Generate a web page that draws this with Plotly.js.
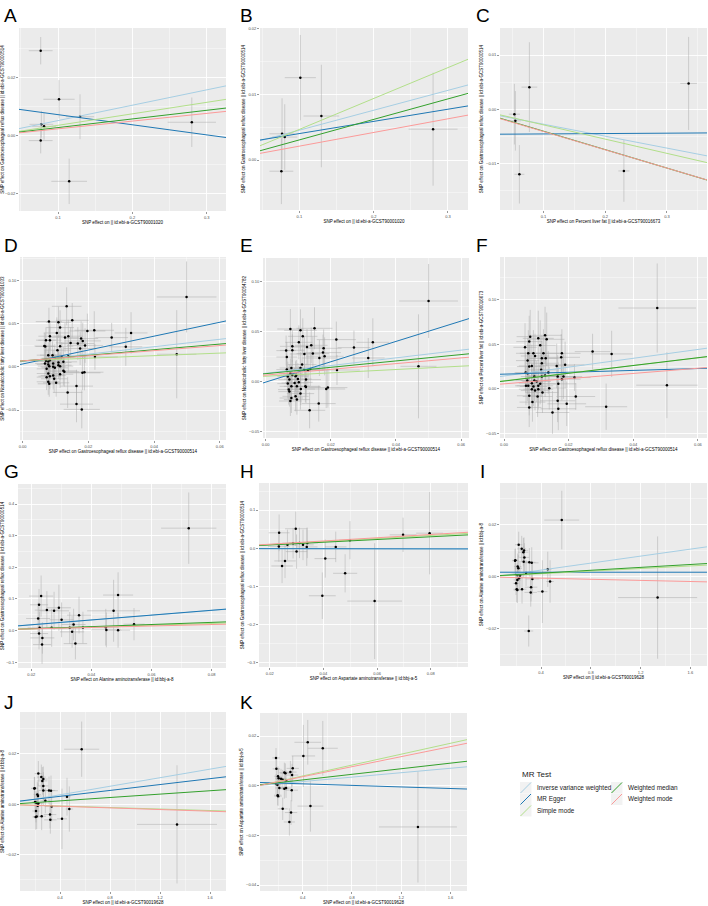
<!DOCTYPE html>
<html><head><meta charset="utf-8">
<script src="https://cdn.plot.ly/plotly-3.0.1.min.js"></script>
<style>html,body{margin:0;padding:0;background:#fff}#c{width:708px;height:906px}</style>
</head><body><div id="c"></div>
<script>
// ---------- DATA ----------
const methods = ["Inverse variance weighted","MR Egger","Simple mode","Weighted median","Weighted mode"];
const methodColors = ["#A6CEE3","#1F78B4","#B2DF8A","#33A02C","#FB9A99"];

// Panel A
const A_bx = [0.0767,0.1013,0.1296,0.0776,0.0812,0.0767,0.1150,0.2800];
const A_by = [0.0291,0.0124,0.0064,0.0038,0.0031,-0.0018,-0.0158,0.0045];
const A_sx = [0.016,0.021,0.019,0.016,0.016,0.016,0.024,0.0325];
const A_sy = [0.0047,0.0066,0.0077,0.0046,0.0046,0.0044,0.0078,0.0085];
const A_int = [-0.0002,0.0106,-0.0005,-0.0003,-0.0004];
const A_slope = [0.0528,-0.0348,0.0395,0.0297,0.0265];

// Panel B
const B_bx = [0.1013,0.1296,0.0767,0.0803,0.0758,0.2800];
const B_by = [0.01254,0.0067,0.0040,0.0035,-0.0017,0.0047];
const B_sx = [0.021,0.024,0.017,0.017,0.016,0.033];
const B_sy = [0.0065,0.0078,0.0054,0.0050,0.0050,0.0086];
const B_int = [0.00152,0.00218,-0.00003,-0.00005,0.00004];
const B_slope = [0.0303,0.01853,0.0470,0.0312,0.0208];

// Panel C
const C_bx = [0.0530,0.0546,0.0773,0.0611,0.2303,0.3351];
const C_by = [-0.00093,-0.00216,0.00407,-0.01204,-0.01142,0.00475];
const C_sx = [0.009,0.009,0.0127,0.008,0.009,0.0135];
const C_sy = [0.0056,0.0055,0.0083,0.0054,0.0057,0.0086];
const C_int = [-0.00057,-0.00465,-0.00027,-0.00066,-0.00075];
const C_slope = [-0.0221,0.0007,-0.02634,-0.0341,-0.0338];

// Panel D
const D_bx = [0.0134,0.0151,0.0080,0.0109,0.0114,0.0197,0.0218,0.0104,0.0139,0.0129,0.0083,0.0071,0.0083,0.0178,0.0183,0.0146,0.0168,0.0190,0.0066,0.0069,0.0114,0.0175,0.0106,0.0078,0.0091,0.0139,0.0119,0.0098,0.0083,0.0071,0.0078,0.0124,0.0109,0.0093,0.0068,0.0078,0.0109,0.0081,0.0114,0.0093,0.0098,0.0073,0.0124,0.0127,0.0182,0.0188,0.0078,0.0114,0.0093,0.0083,0.0073,0.0096,0.0078,0.0081,0.0102,0.0164,0.0137,0.0164,0.0180,0.0499,0.0469,0.0330,0.0314,0.0271,0.0220];
const D_by = [0.0700,0.0538,0.0523,0.0515,0.0454,0.0415,0.0423,0.0392,0.0354,0.0338,0.0354,0.0308,0.0308,0.0327,0.0300,0.0277,0.0269,0.0246,0.0242,0.0235,0.0238,0.0212,0.0192,0.0135,0.0135,0.0123,0.0115,0.0100,0.0077,0.0069,0.0062,0.0058,0.0050,0.0038,0.0038,0.0027,0.0019,0.0008,0.0008,0.0000,-0.0012,-0.0023,-0.0046,-0.0058,-0.0069,-0.0062,-0.0077,-0.0085,-0.0100,-0.0108,-0.0119,-0.0138,-0.0173,-0.0196,-0.0185,-0.0223,-0.0296,-0.0431,-0.0492,0.0808,0.0146,0.0392,0.0231,0.0338,0.0115];
const D_sx = [0.0045,0.0050,0.0040,0.0038,0.0042,0.0055,0.0060,0.0040,0.0045,0.0042,0.0035,0.0030,0.0035,0.0052,0.0055,0.0045,0.0050,0.0055,0.0030,0.0030,0.0040,0.0050,0.0040,0.0035,0.0038,0.0045,0.0042,0.0040,0.0035,0.0030,0.0035,0.0042,0.0040,0.0038,0.0030,0.0035,0.0040,0.0035,0.0040,0.0038,0.0040,0.0030,0.0042,0.0045,0.0055,0.0058,0.0035,0.0040,0.0038,0.0035,0.0030,0.0040,0.0035,0.0035,0.0040,0.0050,0.0045,0.0050,0.0055,0.0091,0.0060,0.0050,0.0050,0.0050,0.0070];
const D_sy = [0.022,0.020,0.016,0.018,0.020,0.020,0.022,0.018,0.019,0.017,0.016,0.015,0.016,0.020,0.021,0.018,0.019,0.020,0.015,0.015,0.017,0.019,0.017,0.015,0.016,0.018,0.017,0.016,0.015,0.015,0.015,0.017,0.016,0.016,0.015,0.015,0.016,0.015,0.016,0.016,0.016,0.015,0.017,0.017,0.020,0.021,0.015,0.016,0.016,0.015,0.015,0.016,0.015,0.015,0.016,0.019,0.018,0.021,0.022,0.041,0.051,0.024,0.022,0.017,0.015];
const D_int = [0.0061,0.0033,0.0070,0.0068,0.0069];
const D_slope = [0.429,0.804,0.148,0.325,0.295];

// Panel E
const E_bx = [0.0076,0.0107,0.0150,0.0114,0.0102,0.0082,0.0082,0.0065,0.0063,0.0127,0.0140,0.0178,0.0176,0.0181,0.0145,0.0165,0.0119,0.0112,0.0107,0.0079,0.0119,0.0130,0.0137,0.0065,0.0082,0.0076,0.0092,0.0099,0.0068,0.0073,0.0094,0.0102,0.0068,0.0089,0.0079,0.0124,0.0122,0.0071,0.0096,0.0108,0.0124,0.0073,0.0092,0.0107,0.0079,0.0096,0.0076,0.0163,0.0135,0.0186,0.0191,0.0500,0.0469,0.0329,0.0315,0.0271,0.0217,0.0219];
const E_by = [0.0523,0.0510,0.0530,0.0450,0.0390,0.0350,0.0310,0.0243,0.0307,0.0343,0.0360,0.0330,0.0287,0.0250,0.0277,0.0233,0.0273,0.0167,0.0133,0.0133,0.0117,0.0110,0.0123,0.0117,0.0063,0.0077,0.0050,0.0023,0.0047,0.0017,0.0063,-0.0010,-0.0023,-0.0017,-0.0050,0.0017,-0.0050,-0.0083,-0.0050,-0.0077,-0.0057,-0.0103,-0.0150,-0.0123,-0.0167,-0.0183,-0.0197,-0.0223,-0.0290,-0.0077,-0.0063,0.0803,0.0150,0.0390,0.0233,0.0337,0.0417,0.0113];
const E_sx = [0.0040,0.0050,0.0055,0.0045,0.0042,0.0038,0.0038,0.0032,0.0030,0.0048,0.0050,0.0055,0.0055,0.0058,0.0050,0.0052,0.0045,0.0044,0.0042,0.0036,0.0045,0.0048,0.0050,0.0032,0.0036,0.0035,0.0040,0.0042,0.0032,0.0034,0.0040,0.0042,0.0032,0.0040,0.0036,0.0046,0.0045,0.0033,0.0040,0.0043,0.0046,0.0034,0.0040,0.0042,0.0036,0.0040,0.0035,0.0052,0.0048,0.0058,0.0060,0.0090,0.0055,0.0050,0.0050,0.0050,0.0060,0.0070];
const E_sy = [0.020,0.021,0.021,0.018,0.017,0.016,0.016,0.015,0.015,0.018,0.018,0.019,0.018,0.019,0.017,0.018,0.017,0.016,0.016,0.015,0.016,0.016,0.017,0.015,0.015,0.015,0.015,0.016,0.015,0.015,0.015,0.016,0.015,0.015,0.015,0.016,0.016,0.015,0.015,0.016,0.016,0.015,0.015,0.016,0.015,0.015,0.015,0.018,0.018,0.019,0.020,0.037,0.052,0.024,0.020,0.017,0.018,0.015];
const E_int = [0.0080,-0.00085,0.0051,0.0076,0.0062];
const E_slope = [0.3864,1.0184,0.1672,0.3187,0.2870];

// Panel F
const F_bx = [0.0081,0.0106,0.0127,0.0132,0.0065,0.0078,0.0112,0.0091,0.0122,0.0096,0.0075,0.0179,0.0177,0.0117,0.0073,0.0129,0.0086,0.0117,0.0115,0.0078,0.0163,0.0189,0.0067,0.0073,0.0137,0.0094,0.0117,0.0127,0.0166,0.0184,0.0179,0.0072,0.0094,0.0101,0.0086,0.0068,0.0075,0.0091,0.0106,0.0112,0.0168,0.0140,0.0106,0.0096,0.0086,0.0078,0.0104,0.0119,0.0088,0.0166,0.0078,0.0168,0.0150,0.0194,0.0474,0.0504,0.0333,0.0316,0.0274,0.0222,0.0218];
const F_by = [0.0586,0.0567,0.0601,0.0556,0.0466,0.0530,0.0489,0.0399,0.0399,0.0369,0.0399,0.0399,0.0354,0.0343,0.0317,0.0343,0.0257,0.0287,0.0213,0.0250,0.0257,0.0269,0.0183,0.0175,0.0183,0.0138,0.0138,0.0149,0.0138,0.0138,0.0108,0.0093,0.0093,0.0082,0.0063,0.0034,0.0034,0.0026,0.0034,0.0056,0.0056,0.0007,-0.0004,-0.0019,-0.0004,-0.0078,-0.0086,-0.0041,-0.0149,-0.0134,-0.0209,-0.0224,-0.0265,-0.0168,0.0907,0.0041,0.0392,-0.0201,0.0418,-0.0086,0.0127];
const F_sx = [0.0042,0.0048,0.0052,0.0055,0.0036,0.0040,0.0048,0.0042,0.0050,0.0044,0.0038,0.0058,0.0058,0.0048,0.0036,0.0050,0.0040,0.0048,0.0046,0.0038,0.0055,0.0060,0.0034,0.0036,0.0052,0.0042,0.0048,0.0050,0.0055,0.0058,0.0058,0.0036,0.0042,0.0044,0.0040,0.0034,0.0036,0.0042,0.0046,0.0048,0.0055,0.0052,0.0046,0.0044,0.0040,0.0038,0.0046,0.0050,0.0040,0.0055,0.0038,0.0055,0.0052,0.0060,0.0120,0.0095,0.0065,0.0065,0.0055,0.0060,0.0050];
const F_sy = [0.030,0.031,0.032,0.030,0.027,0.029,0.028,0.026,0.027,0.025,0.026,0.027,0.026,0.026,0.025,0.026,0.024,0.025,0.024,0.024,0.025,0.026,0.023,0.023,0.024,0.023,0.023,0.024,0.024,0.025,0.024,0.023,0.023,0.023,0.022,0.022,0.022,0.022,0.023,0.023,0.024,0.024,0.023,0.022,0.022,0.022,0.023,0.023,0.022,0.024,0.022,0.024,0.024,0.025,0.050,0.037,0.026,0.026,0.020,0.015,0.015];
const F_int = [0.0144,0.0165,0.0090,0.0087,0.0056];
const F_slope = [0.4968,0.1046,0.4300,0.4370,0.2920];

// Panel G
const G_bx = [0.0724,0.0489,0.0474,0.0542,0.0448,0.0450,0.0489,0.0233,0.0226,0.0252,0.0276,0.0292,0.0223,0.0301,0.0359,0.0341,0.0372,0.0228,0.0268,0.0328,0.0336,0.0226,0.0237,0.0236,0.0347];
const G_by = [0.3238,0.1122,0.0624,0.0201,0.0106,0.0020,0.0010,0.1090,0.0815,0.0646,0.0624,0.0720,0.0381,0.0339,0.0487,0.0190,0.0095,0.0085,0.0085,0.0085,-0.0042,-0.0095,-0.0233,-0.0444,-0.0413];
const G_sx = [0.0092,0.0050,0.0088,0.0035,0.0040,0.0050,0.0040,0.0040,0.0030,0.0040,0.0050,0.0040,0.0040,0.0040,0.0040,0.0040,0.0040,0.0040,0.0050,0.0040,0.0040,0.0030,0.0040,0.0030,0.0039];
const G_sy = [0.113,0.072,0.098,0.051,0.058,0.055,0.055,0.065,0.050,0.060,0.060,0.073,0.050,0.055,0.058,0.050,0.050,0.050,0.060,0.050,0.050,0.050,0.050,0.061,0.050];
const G_int = [0.0028,0.0029,0.0000,-0.0011,0.0006];
const G_slope = [0.7600,0.7645,0.2800,0.3367,0.2298];

// Panel H
const H_bx = [0.0234,0.0235,0.0246,0.0257,0.0266,0.0287,0.0297,0.0300,0.0311,0.0324,0.0338,0.0340,0.0396,0.0407,0.0446,0.0481,0.0499,0.0591,0.0697,0.0796];
const H_by = [0.0044,0.0404,-0.0465,-0.0333,0.0088,0.0132,0.0509,-0.0088,0.0140,0.0088,0.0035,0.0140,-0.1246,-0.0272,0.0035,-0.0658,0.0211,-0.1386,0.0351,0.0395];
const H_sx = [0.004,0.0039,0.004,0.004,0.004,0.004,0.004,0.004,0.004,0.004,0.004,0.004,0.005,0.004,0.004,0.0045,0.004,0.0102,0.005,0.005];
const H_sy = [0.040,0.048,0.045,0.045,0.040,0.040,0.045,0.045,0.040,0.040,0.050,0.040,0.061,0.050,0.040,0.050,0.050,0.152,0.045,0.108];
const H_int = [-0.0010,-0.0010,0.0015,0.0013,0.0020];
const H_slope = [-0.0100,-0.0080,0.4000,0.3584,0.4247];

// Panel I
const I_bx = [0.5664,1.3369,0.3007,0.4537,0.4725,0.4107,0.2201,0.2443,0.2577,0.2631,0.2658,0.1933,0.1906,0.2121,0.2174,0.2604,0.3060,0.3248,0.2792,0.1987,0.2094,0.2309,0.2228,0.2094,0.1987,0.2040,0.2094,0.2470,0.3168,0.3195,0.3302];
const I_by = [0.0218,-0.0081,-0.0210,0.0028,-0.0019,-0.0058,0.0123,0.0107,0.0094,0.0101,0.0074,0.0063,0.0061,0.0039,0.0032,0.0057,0.0055,0.0053,0.0014,0.0009,0.0006,0.0004,-0.0006,-0.0013,-0.0026,-0.0049,-0.0052,-0.0049,-0.0061,-0.0041,-0.0009];
const I_sx = [0.140,0.318,0.036,0.030,0.030,0.040,0.030,0.035,0.040,0.035,0.040,0.025,0.025,0.030,0.030,0.040,0.050,0.055,0.040,0.025,0.030,0.035,0.030,0.030,0.025,0.025,0.030,0.035,0.050,0.050,0.055];
const I_sy = [0.0113,0.0236,0.0060,0.0068,0.0082,0.0121,0.0050,0.0050,0.0055,0.0050,0.0055,0.0045,0.0045,0.0050,0.0050,0.0060,0.0055,0.0060,0.0050,0.0045,0.0045,0.0050,0.0045,0.0045,0.0045,0.0050,0.0050,0.0055,0.0055,0.0055,0.0060];
const I_int = [-0.0002,0.00168,0.0001,0.0002,-0.00018];
const I_slope = [0.00674,0.0000,0.0025,0.00279,-0.00108];

// Panel J
const J_bx = [0.5733,1.3360,0.4160,0.4560,0.4747,0.2267,0.2507,0.2587,0.2667,0.2667,0.1973,0.1947,0.2187,0.2240,0.2667,0.3120,0.3280,0.2827,0.2000,0.2107,0.2267,0.2213,0.2080,0.2053,0.2133,0.2533,0.3200,0.3227,0.3333];
const J_by = [0.0219,-0.0080,-0.0058,0.0030,-0.0019,0.0122,0.0108,0.0093,0.0100,0.0073,0.0064,0.0063,0.0039,0.0033,0.0055,0.0055,0.0054,0.0014,0.0009,0.0006,0.0003,-0.0006,-0.0027,-0.0051,-0.0049,-0.0048,-0.0041,-0.0062,-0.0009];
const J_sx = [0.140,0.320,0.040,0.030,0.030,0.030,0.035,0.040,0.035,0.040,0.025,0.025,0.030,0.030,0.040,0.050,0.055,0.040,0.025,0.030,0.035,0.030,0.030,0.025,0.030,0.035,0.050,0.050,0.055];
const J_sy = [0.0110,0.0235,0.0120,0.0075,0.0090,0.0050,0.0050,0.0055,0.0050,0.0055,0.0045,0.0045,0.0050,0.0050,0.0060,0.0055,0.0060,0.0050,0.0045,0.0045,0.0050,0.0045,0.0045,0.0050,0.0050,0.0055,0.0055,0.0055,0.0060];
const J_int = [0.00035,0.00082,-0.0001,0.0000,-0.00013];
const J_slope = [0.00851,0.00585,-0.0015,0.00336,-0.00164];

// Panel K
const K_bx = [1.3356,0.4407,0.5627,0.4054,0.4624,0.1830,0.1858,0.2508,0.2590,0.2997,0.3186,0.3132,0.2644,0.2237,0.2373,0.1993,0.1830,0.1939,0.2102,0.2508,0.2644,0.1966,0.1993,0.3105,0.2373,0.3051,0.2915,0.2047];
const K_by = [-0.0166,0.0175,0.0151,0.0120,-0.0082,0.0112,0.0068,0.0053,0.0050,0.0055,0.0070,0.0043,0.0022,0.0028,0.0024,0.0038,0.0007,0.0004,-0.0009,-0.0012,-0.0009,-0.0038,-0.0042,-0.0018,-0.0093,-0.0108,-0.0146,0.0030];
const K_sx = [0.317,0.108,0.122,0.095,0.105,0.030,0.030,0.040,0.040,0.050,0.050,0.050,0.040,0.035,0.040,0.030,0.030,0.030,0.035,0.040,0.040,0.030,0.030,0.050,0.040,0.050,0.045,0.030];
const K_sy = [0.0224,0.0090,0.0110,0.0125,0.0103,0.0040,0.0045,0.0040,0.0040,0.0045,0.0050,0.0045,0.0040,0.0040,0.0040,0.0040,0.0040,0.0040,0.0040,0.0040,0.0040,0.0040,0.0040,0.0045,0.0045,0.0050,0.0055,0.0040];
const K_int = [-0.0001,0.0014,-0.00045,0.0001,-0.0004];
const K_slope = [0.00446,-0.00157,0.01097,0.00563,0.0101];

// Axis titles
const GERD = "SNP effect on Gastroesophageal reflux disease || id:ebi-a-GCST90000514";
const xTitles = ["SNP effect on || id:ebi-a-GCST90001020","SNP effect on || id:ebi-a-GCST90001020","SNP effect on Percent liver fat || id:ebi-a-GCST90016673",GERD,GERD,GERD,"SNP effect on Alanine aminotransferase || id:bbj-a-8","SNP effect on Aspartate aminotransferase || id:bbj-a-5","SNP effect on || id:ebi-a-GCST90019628","SNP effect on || id:ebi-a-GCST90019628","SNP effect on || id:ebi-a-GCST90019628"];
const yTitles = [GERD,GERD,GERD,"SNP effect on Nonalcoholic fatty liver disease || id:ebi-a-GCST90091033","SNP effect on Nonalcoholic fatty liver disease || id:ebi-a-GCST90054782","SNP effect on Percent liver fat || id:ebi-a-GCST90016673",GERD,GERD,"SNP effect on Alanine aminotransferase || id:bbj-a-8","SNP effect on Alanine aminotransferase || id:bbj-a-8","SNP effect on Aspartate aminotransferase || id:bbj-a-5"];
const letters = ["A","B","C","D","E","F","G","H","I","J","K"];

// ---------- LAYOUT SPEC ----------
const W = 708, H = 906;
const specs = [
 {d:[A_bx,A_by,A_sx,A_sy,A_int,A_slope], box:[19,28,226,211], xr:[0.0475,0.326], yr:[-0.026,0.0369], xd:0.1, yd:0.02, xf:'.1f', yf:'.2f', lab:[2,3]},
 {d:[B_bx,B_by,B_sx,B_sy,B_int,B_slope], box:[260,28,468,210], xr:[0.047,0.327], yr:[-0.0076,0.0201], xd:0.1, yd:0.01, xf:'.1f', yf:'.2f', lab:[238,3]},
 {d:[C_bx,C_by,C_sx,C_sy,C_int,C_slope], box:[500,28,707,210], xr:[0.0297,0.3649], yr:[-0.01864,0.0150], xd:0.1, yd:0.01, xf:'.1f', yf:'.2f', lab:[474,3]},
 {d:[D_bx,D_by,D_sx,D_sy,D_int,D_slope], box:[20,257,226,440], xr:[-0.0008,0.0619], yr:[-0.0846,0.127], xd:0.02, yd:0.05, xf:'.2f', yf:'.2f', lab:[2,233]},
 {d:[E_bx,E_by,E_sx,E_sy,E_int,E_slope], box:[263,258,469,438], xr:[-0.0008,0.0624], yr:[-0.0567,0.1233], xd:0.02, yd:0.05, xf:'.2f', yf:'.2f', lab:[238,233]},
 {d:[F_bx,F_by,F_sx,F_sy,F_int,F_slope], box:[500,257,707,438], xr:[-0.00124,0.0628], yr:[-0.0552,0.148], xd:0.02, yd:0.05, xf:'.2f', yf:'.2f', lab:[474,233]},
 {d:[G_bx,G_by,G_sx,G_sy,G_int,G_slope], box:[18,484,226,668], xr:[0.0156,0.0848], yr:[-0.1185,0.4635], xd:0.02, yd:0.1, xf:'.2f', yf:'.1f', lab:[2,459]},
 {d:[H_bx,H_by,H_sx,H_sy,H_int,H_slope], box:[259,483,468,667], xr:[0.016,0.0939], yr:[-0.3114,0.171], xd:0.02, yd:0.1, xf:'.2f', yf:'.1f', lab:[238,459]},
 {d:[I_bx,I_by,I_sx,I_sy,I_int,I_slope], box:[500,483,707,666], xr:[0.0698,1.734], yr:[-0.0345,0.0361], xd:0.4, yd:0.02, xf:'.1f', yf:'.2f', lab:[478,459]},
 {d:[J_bx,J_by,J_sx,J_sy,J_int,J_slope], box:[20,712,226,891], xr:[0.08,1.728], yr:[-0.0345,0.0367], xd:0.4, yd:0.02, xf:'.1f', yf:'.2f', lab:[2,690]},
 {d:[K_bx,K_by,K_sx,K_sy,K_int,K_slope], box:[260,713,467,891], xr:[0.0529,1.734], yr:[-0.0424,0.0293], xd:0.4, yd:0.02, xf:'.1f', yf:'.2f', lab:[238,690]}
];

const FONT = "Liberation Sans, Arial, sans-serif";
const traces = [];
const layout = {
  width: W, height: H, margin:{l:0,r:0,t:0,b:0}, paper_bgcolor:'#fff', plot_bgcolor:'#EBEBEB',
  showlegend:false, font:{family:FONT}, annotations:[], shapes:[]
};

specs.forEach((s,i)=>{
  const n = i+1, xa = 'x'+(n===1?'':n), ya = 'y'+(n===1?'':n);
  const [bx,by,sx,sy,ints,slopes] = s.d;
  traces.push({type:'scatter', mode:'markers', x:bx, y:by, xaxis:xa, yaxis:ya,
    marker:{size:2.5, color:'#000'},
    error_x:{type:'data', array:sx, visible:true, color:'#ABABAB', thickness:0.5, width:0},
    error_y:{type:'data', array:sy, visible:true, color:'#ABABAB', thickness:0.5, width:0},
    hoverinfo:'skip'});
  methods.forEach((m,k)=>{
    const xs = [s.xr[0], s.xr[1]];
    traces.push({type:'scatter', mode:'lines', x:xs, y:xs.map(v=>ints[k]+slopes[k]*v),
      xaxis:xa, yaxis:ya, line:{color:methodColors[k], width:1}, name:m, hoverinfo:'skip'});
  });
  const [x0,y0,x1,y1] = s.box;
  const common = {showline:false, zeroline:false, gridcolor:'#FFFFFF', gridwidth:0.9,
    ticks:'outside', ticklen:2, tickwidth:0.5, tickcolor:'#333', tickfont:{size:4, color:'#4D4D4D', family:FONT},
    tickmode:'linear', automargin:false};
  layout['xaxis'+(n===1?'':n)] = Object.assign({}, common, {
    domain:[x0/W, x1/W], anchor:ya, range:s.xr, tick0:0, dtick:s.xd, tickformat:s.xf,
    minor:{showgrid:true, gridcolor:'#FFFFFF', gridwidth:0.4, tick0:0, dtick:s.xd/2, ticks:''},
    title:{text:xTitles[i], font:{size:4.5, color:'#000', family:FONT}, standoff:1}});
  layout['yaxis'+(n===1?'':n)] = Object.assign({}, common, {
    domain:[1-y1/H, 1-y0/H], anchor:xa, range:s.yr, tick0:0, dtick:s.yd, tickformat:s.yf,
    minor:{showgrid:true, gridcolor:'#FFFFFF', gridwidth:0.4, tick0:0, dtick:s.yd/2, ticks:''},
    title:{text:yTitles[i], font:{size:4.5, color:'#000', family:FONT}, standoff:2}});
  layout.annotations.push({text:letters[i], xref:'paper', yref:'paper', x:s.lab[0]/W, y:1-s.lab[1]/H,
    xanchor:'left', yanchor:'top', showarrow:false, font:{size:19, color:'#000', family:FONT}});
});

// ---------- custom legend (ggplot-style keys) ----------
const legOrigin = [520, 774];
layout.annotations.push({text:'MR Test', xref:'paper', yref:'paper', x:legOrigin[0]/W, y:1-legOrigin[1]/H,
  xanchor:'left', yanchor:'middle', showarrow:false, font:{size:8, color:'#1a1a1a', family:FONT}});
const legPos = [[520,782],[520,793.5],[520,805],[611,782],[611,793.5]];
const legOrder = [0,1,2,3,4];
legOrder.forEach((k,j)=>{
  const [px,py] = legPos[j];
  layout.shapes.push({type:'rect', xref:'paper', yref:'paper', x0:px/W, x1:(px+11.5)/W, y0:1-(py+11.5)/H, y1:1-py/H,
    fillcolor:'#F2F2F2', line:{width:0}});
  layout.shapes.push({type:'line', xref:'paper', yref:'paper', x0:(px+0.5)/W, x1:(px+11)/W, y0:1-(py+11)/H, y1:1-(py+0.5)/H,
    line:{color:methodColors[k], width:1}});
  layout.annotations.push({text:methods[k], xref:'paper', yref:'paper', x:(px+15)/W, y:1-(py+5.75)/H,
    xanchor:'left', yanchor:'middle', showarrow:false, font:{size:6.4, color:'#1a1a1a', family:FONT}});
});

Plotly.newPlot('c', traces, layout, {staticPlot:true, displayModeBar:false});
</script></body></html>
